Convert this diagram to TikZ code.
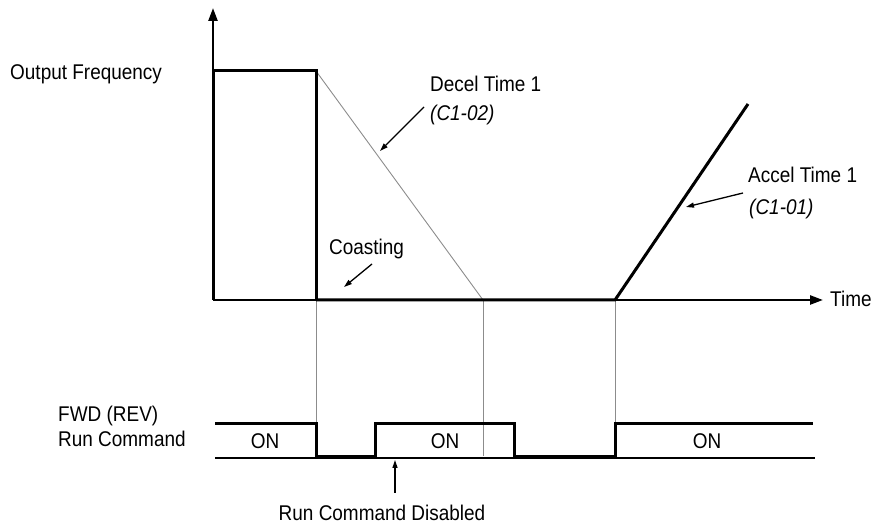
\documentclass[tikz,border=0pt]{standalone}
\usepackage{fontspec}
\setmainfont[FakeStretch=0.89]{Liberation Sans}
\usetikzlibrary{arrows.meta}
\begin{document}
\begin{tikzpicture}[x=1pt,y=1pt,
  lbl/.style={inner sep=0pt,font=\fontsize{21.3}{25}\selectfont},
  wave/.style={line width=3pt,line join=miter},
  guide/.style={line width=0.9pt,draw=black!45},
  axisarrow/.style={line width=2.4pt,-{Triangle[length=13pt,width=9pt]}},
  pointer/.style={line width=1.3pt,-{Triangle[length=8pt,width=5pt]}}]
\useasboundingbox (0,0) rectangle (875,529);
% key coordinates (y = 529 - pixel row)
\coordinate (O) at (213,229);
\coordinate (ytop) at (213,521);
\coordinate (xend) at (823,229);
\coordinate (topL) at (213,458);
\coordinate (topR) at (316,458);
\coordinate (coastS) at (316,229);
\coordinate (decelE) at (483,229);
\coordinate (accS) at (615,229);
\coordinate (accE) at (748,425);
% signal levels: high 105, low 72
\coordinate (s0) at (215,105);
\coordinate (s1) at (316,105);
\coordinate (s2) at (316,72);
\coordinate (s3) at (375,72);
\coordinate (s4) at (375,105);
\coordinate (s5) at (514,105);
\coordinate (s6) at (514,72);
\coordinate (s7) at (615,72);
\coordinate (s8) at (615,105);
\coordinate (s9) at (813,105);
\coordinate (b0) at (215,71);
\coordinate (b1) at (815,71);
% guide lines
\draw[guide] (topR) -- (decelE);
\draw[guide] (coastS) -- (s1);
\draw[guide] (decelE) -- (483,73);
\draw[guide] (accS) -- (s8);
% thin baseline of signal
\draw[line width=1.3pt] (b0) -- (b1);
% output frequency wave
\draw[wave] (O) -- (topL) -- (topR) -- (coastS);
\draw[wave] (coastS) -- (accS) -- (accE);
\draw[axisarrow] (O) -- (ytop);
\draw[axisarrow] (O) -- (xend);
% run command wave
\draw[wave] (s0) -- (s1) -- (s2) -- (s3) -- (s4) -- (s5) -- (s6) -- (s7) -- (s8) -- (s9);
% labels
\node[lbl,anchor=base west] (of) at (10,449) {Output Frequency};
\node[lbl,anchor=base west] (dt) at (430,437) {Decel Time 1};
\node[lbl,anchor=base west] (dc) at (430,408) {\itshape (C1-02)};
\node[lbl,anchor=base west] (co) at (329,274) {Coasting};
\node[lbl,anchor=base west] (at) at (748,346) {Accel Time 1};
\node[lbl,anchor=base west] (ac) at (749,314) {\itshape (C1-01)};
\node[lbl,anchor=base west] (tm) at (830,222) {Time};
\node[lbl,anchor=base west] (fw) at (58,107) {FWD (REV)};
\node[lbl,anchor=base west] (rc) at (58,82) {Run Command};
\node[lbl,anchor=base] (on1) at (265,80) {ON};
\node[lbl,anchor=base] (on2) at (445,80) {ON};
\node[lbl,anchor=base] (on3) at (707,80) {ON};
\node[lbl,anchor=base] (rd) at (382,8) {Run Command Disabled};
% pointers
\coordinate (dp0) at (424,422);
\coordinate (dp1) at (380,378);
\coordinate (cp0) at (372,265);
\coordinate (cp1) at (344,242);
\coordinate (ap0) at (743,336);
\coordinate (ap1) at (686,322);
\coordinate (rp0) at (395,36);
\coordinate (rp1) at (395,69);
\draw[pointer] (dp0) -- (dp1);
\draw[pointer] (cp0) -- (cp1);
\draw[pointer] (ap0) -- (ap1);
\draw[pointer] (rp0) -- (rp1);
\end{tikzpicture}
\end{document}
